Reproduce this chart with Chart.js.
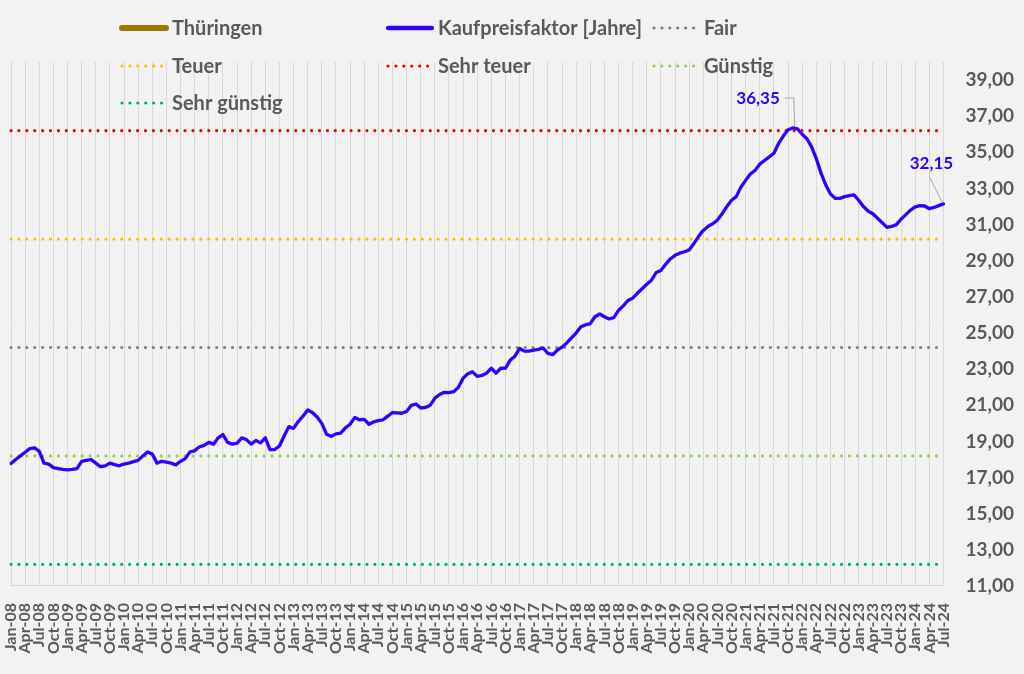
<!DOCTYPE html>
<html>
<head>
<meta charset="utf-8">
<script src="https://cdn.jsdelivr.net/npm/chart.js@4.4.1/dist/chart.umd.min.js"></script>
<style>
  html, body { margin: 0; padding: 0; background: #f2f2f2; }
  #wrap { width: 1024px; height: 674px; }
</style>
</head>
<body>
<div id="wrap"><canvas id="c" width="1024" height="674"></canvas></div>
<script>
// ---------- DATA ----------
const MONTHS = ['Jan','Feb','Mar','Apr','May','Jun','Jul','Aug','Sep','Oct','Nov','Dec'];
const FIRST_YEAR = 2008, LAST_YEAR = 2024, LAST_MONTH_INDEX = 6; // Jul-24

const kaufpreisfaktor = [
  17.78, 18.00, 18.20, 18.40, 18.60, 18.65, 18.45, 17.80, 17.75, 17.55, 17.50, 17.45,
  17.42, 17.45, 17.50, 17.90, 17.95, 18.00, 17.80, 17.60, 17.65, 17.80, 17.72, 17.65,
  17.75, 17.80, 17.88, 17.95, 18.20, 18.42, 18.30, 17.80, 17.90, 17.85, 17.80, 17.70,
  17.90, 18.05, 18.42, 18.48, 18.70, 18.78, 18.95, 18.85, 19.20, 19.38, 18.95, 18.85,
  18.90, 19.20, 19.10, 18.85, 19.05, 18.92, 19.20, 18.55, 18.55, 18.75, 19.30, 19.82,
  19.72, 20.10, 20.40, 20.74, 20.60, 20.35, 20.00, 19.40, 19.28, 19.42, 19.46, 19.75,
  19.95, 20.33, 20.20, 20.22, 19.95, 20.08, 20.15, 20.20, 20.40, 20.60, 20.58, 20.56,
  20.66, 21.00, 21.07, 20.85, 20.88, 21.00, 21.40, 21.60, 21.72, 21.70, 21.75, 22.00,
  22.50, 22.75, 22.85, 22.60, 22.65, 22.78, 23.05, 22.78, 23.05, 23.05, 23.50, 23.72,
  24.15, 24.00, 24.00, 24.05, 24.10, 24.17, 23.87, 23.80, 24.05, 24.22, 24.45, 24.73,
  25.00, 25.35, 25.45, 25.52, 25.90, 26.05, 25.90, 25.78, 25.85, 26.25, 26.50, 26.80,
  26.93, 27.20, 27.45, 27.70, 27.92, 28.35, 28.46, 28.80, 29.10, 29.30, 29.42, 29.50,
  29.60, 29.95, 30.35, 30.68, 30.90, 31.05, 31.25, 31.60, 32.00, 32.35, 32.55, 33.08,
  33.45, 33.80, 34.00, 34.35, 34.55, 34.75, 34.95, 35.50, 35.90, 36.25, 36.35, 36.30,
  36.00, 35.75, 35.30, 34.65, 33.85, 33.20, 32.70, 32.45, 32.45, 32.55, 32.60, 32.65,
  32.35, 32.00, 31.75, 31.60, 31.35, 31.10, 30.85, 30.90, 31.00, 31.30, 31.55, 31.80,
  31.98, 32.05, 32.03, 31.88, 31.95, 32.05, 32.15
];

const levelNames  = ['Fair', 'Teuer', 'Sehr teuer', 'Günstig', 'Sehr günstig'];
const levelValues = [24.2, 30.2, 36.2, 18.2, 12.2];

const yTickValues = [11, 13, 15, 17, 19, 21, 23, 25, 27, 29, 31, 33, 35, 37, 39];
const Y_MIN = 11, Y_MAX = 40;

// ---------- build categories ----------
const labels = [];
for (let y = FIRST_YEAR; y <= LAST_YEAR; y++) {
  for (let m = 0; m < 12; m++) {
    if (y === LAST_YEAR && m > LAST_MONTH_INDEX) break;
    labels.push(MONTHS[m] + '-' + String(y % 100).padStart(2, '0'));
  }
}

// ---------- styles ----------
const FONT = 'Lato';
const TEXT_GRAY = '#595959';
const BLUE = '#3300ff';
const levelColors = ['#7f7f7f', '#ffc000', '#ff0000', '#92d050', '#00b050'];
const fmt = v => v.toFixed(2).replace('.', ',');

const datasets = [
  { label: 'Thüringen', data: [], borderColor: '#9c7a00', borderWidth: 5, pointRadius: 0 },
  { label: 'Kaufpreisfaktor [Jahre]', data: kaufpreisfaktor, borderColor: BLUE, borderWidth: 3.3,
    pointRadius: 0, tension: 0, borderJoinStyle: 'round', borderCapStyle: 'round' }
];
levelNames.forEach((n, k) => {
  datasets.push({
    label: n,
    data: [{ x: labels[0], y: levelValues[k] }, { x: labels[labels.length - 1], y: levelValues[k] }],
    borderColor: levelColors[k], borderWidth: 3.2, borderDash: [0.01, 7.9], borderCapStyle: 'round',
    pointRadius: 0, tension: 0, dotted: true
  });
});

// custom grid legend (3 columns)
const gridLegend = {
  id: 'gridLegend',
  afterDraw(chart) {
    const ctx = chart.ctx;
    const colX = [120, 386, 652], rowY = [28, 66, 103];
    ctx.save();
    ctx.font = 'bold 20px ' + FONT;
    ctx.textBaseline = 'middle';
    chart.data.datasets.forEach((ds, i) => {
      const x = colX[i % 3], y = rowY[Math.floor(i / 3)];
      ctx.beginPath();
      ctx.strokeStyle = ds.borderColor;
      if (ds.dotted) {
        ctx.lineWidth = 3.2; ctx.lineCap = 'round'; ctx.setLineDash([0.01, 7.9]);
        ctx.moveTo(x + 2, y); ctx.lineTo(x + 44, y);
      } else {
        ctx.lineWidth = ds.borderWidth + 1; ctx.lineCap = 'round'; ctx.setLineDash([]);
        ctx.moveTo(x + 2, y); ctx.lineTo(x + 46, y);
      }
      ctx.stroke();
      ctx.setLineDash([]);
      ctx.fillStyle = TEXT_GRAY;
      ctx.fillText(ds.label, x + 52, y + 1);
    });
    ctx.restore();
  }
};

// data labels with leader lines
const valueLabels = {
  id: 'valueLabels',
  afterDatasetsDraw(chart) {
    const meta = chart.getDatasetMeta(1);
    const data = chart.data.datasets[1].data;
    let peak = 0;
    data.forEach((v, i) => { if (v > data[peak]) peak = i; });
    const last = data.length - 1;
    const ctx = chart.ctx;
    ctx.save();
    ctx.font = 'bold 17px ' + FONT;
    ctx.textBaseline = 'middle';
    // peak
    const p = meta.data[peak];
    ctx.strokeStyle = '#a6a6a6'; ctx.lineWidth = 1;
    ctx.beginPath();
    ctx.moveTo(p.x - 8, p.y - 30); ctx.lineTo(p.x + 1, p.y - 30); ctx.lineTo(p.x + 2, p.y - 2);
    ctx.stroke();
    ctx.fillStyle = BLUE; ctx.textAlign = 'right';
    ctx.fillText(fmt(data[peak]), p.x - 13, p.y - 29);
    // last
    const q = meta.data[last];
    ctx.beginPath();
    ctx.moveTo(q.x - 14, q.y - 27); ctx.lineTo(q.x - 1, q.y - 1);
    ctx.stroke();
    ctx.textAlign = 'center';
    ctx.fillText(fmt(data[last]), q.x - 12, q.y - 40);
    ctx.restore();
  }
};

Chart.defaults.font.family = FONT;
Chart.defaults.color = TEXT_GRAY;

new Chart(document.getElementById('c'), {
  type: 'line',
  data: { labels, datasets },
  options: {
    responsive: false,
    animation: false,
    layout: { padding: { left: 11, top: 62, right: -12, bottom: 3 } },
    plugins: { legend: { display: false }, tooltip: { enabled: false } },
    scales: {
      x: {
        type: 'category',
        offset: false,
        afterFit: s => { s.paddingLeft = 0; },
        grid: {
          color: c => (c.index % 3 === 0 ? '#d9d9d9' : 'rgba(0,0,0,0)'),
          lineWidth: 1,
          drawTicks: false
        },
        border: { display: true, color: '#d9d9d9' },
        ticks: {
          autoSkip: false, minRotation: 90, maxRotation: 90, padding: 17,
          font: { size: 16, weight: 'bold' }, color: TEXT_GRAY,
          callback: function (v, i) { return i % 3 === 0 ? this.getLabelForValue(v) : ''; }
        }
      },
      y: {
        position: 'right',
        min: Y_MIN, max: Y_MAX,
        grid: { display: false, drawTicks: false },
        border: { display: false },
        afterBuildTicks: s => { s.ticks = yTickValues.map(v => ({ value: v })); },
        ticks: { padding: 22, font: { size: 19, weight: 'bold' }, color: TEXT_GRAY, callback: v => fmt(v) }
      }
    }
  },
  plugins: [gridLegend, valueLabels]
});
</script>
</body>
</html>
